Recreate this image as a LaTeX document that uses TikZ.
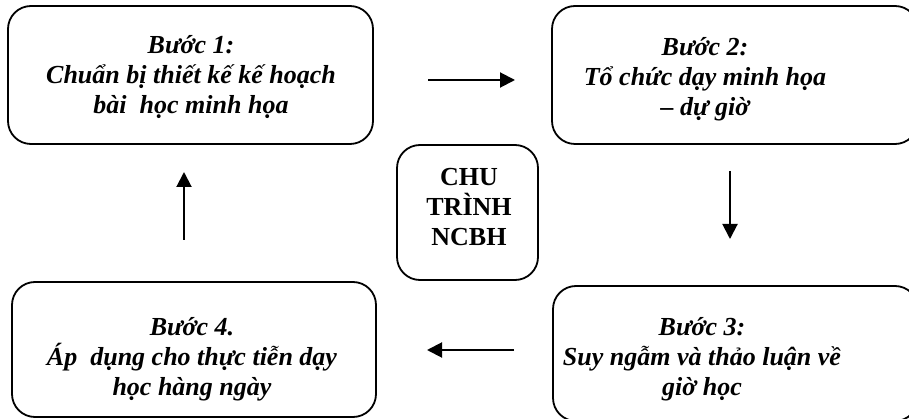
\documentclass[tikz,border=0pt]{standalone}
\usepackage{fontspec}
\setmainfont{Liberation Serif}
\usetikzlibrary{arrows.meta}
\lineskiplimit=-100pt
\lineskip=0pt
\begin{document}
\begin{tikzpicture}[x=1pt,y=-1pt,
  stepbox/.style={draw=black, line width=1.8pt, rounded corners=23pt, minimum width=#1, inner sep=0pt},
  steptext/.style={anchor=north, inner sep=0pt, align=center,
    font=\fontsize{26}{30}\selectfont\bfseries\itshape},
  centertext/.style={anchor=north, inner sep=0pt, align=center,
    font=\fontsize{26}{30}\selectfont\bfseries},
  flow/.style={line width=2pt, -{Triangle[length=15pt,width=15pt]}}]
\useasboundingbox (0,0) rectangle (909,419);
\clip (0,0) rectangle (909,419);
% boxes
\node[stepbox=365pt, minimum height=138pt] (b1) at (190.5,75) {};
\node[stepbox=366pt, minimum height=138pt] (b2) at (735,75) {};
\node[stepbox=365pt, minimum height=135pt] (b3) at (735.5,353.5) {};
\node[stepbox=364pt, minimum height=135pt] (b4) at (194,349.5) {};
\node[stepbox=141pt, minimum height=135pt] (bc) at (467.5,212.5) {};
% texts
\node[steptext] (t1) at (191,32) {\strut Bước 1:\\Chuẩn bị thiết kế kế hoạch\\bài\ \ học minh họa\strut};
\node[steptext] (t2) at (705,34) {\strut Bước 2:\\Tổ chức dạy minh họa\\– dự giờ\strut};
\node[steptext] (t3) at (702,314) {\strut Bước 3:\\Suy ngẫm và thảo luận về\\giờ học\strut};
\node[steptext] (t4) at (192,314) {\strut Bước 4.\\Áp\ \ dụng cho thực tiễn dạy\\học hàng ngày\strut};
\node[centertext] (tc) at (469,164) {\strut CHU\\TRÌNH\\NCBH\strut};
% arrow ends
\coordinate (a1s) at (428,80);  \coordinate (a1e) at (515,80);
\coordinate (a2s) at (730,171); \coordinate (a2e) at (730,239);
\coordinate (a3s) at (514,350); \coordinate (a3e) at (427,350);
\coordinate (a4s) at (184,240); \coordinate (a4e) at (184,172);
\draw[flow] (a1s) -- (a1e);
\draw[flow] (a2s) -- (a2e);
\draw[flow] (a3s) -- (a3e);
\draw[flow] (a4s) -- (a4e);
\end{tikzpicture}
\end{document}
